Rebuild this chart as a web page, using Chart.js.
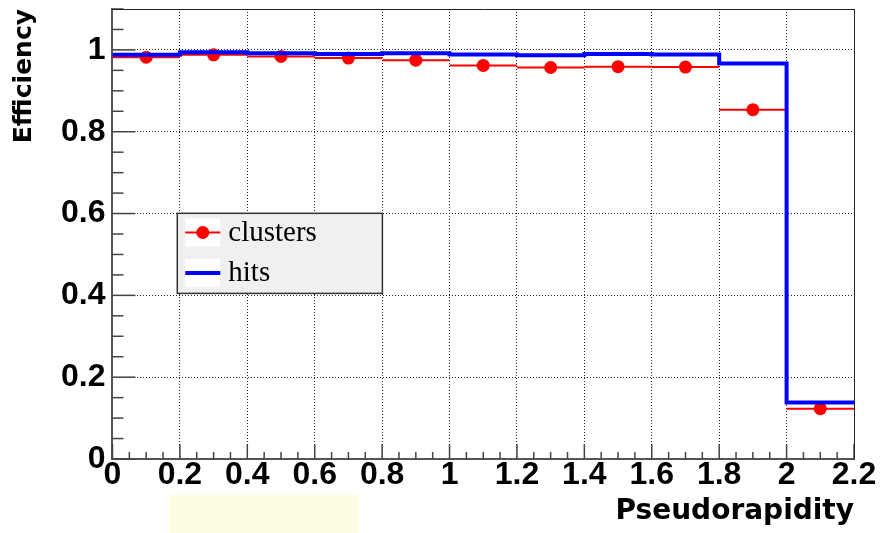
<!DOCTYPE html>
<html lang="en">
<head>
<meta charset="UTF-8">
<title>Efficiency vs Pseudorapidity</title>
<style>
  body { margin: 0; background: #fff; }
  .wrap { position: relative; width: 882px; height: 533px; }
  .note { position: absolute; left: 169px; top: 495px; width: 190px; height: 38px; background: #fdfde4; }
</style>
<script src="https://cdn.jsdelivr.net/npm/chart.js"></script>
</head>
<body>
<div class="wrap">
  <canvas id="effChart" width="882" height="533"></canvas>
  <div class="note"></div>
</div>
<script>
// histogram binning in pseudorapidity (11 bins of 0.2)
const binEdges = [0, 0.2, 0.4, 0.6, 0.8, 1.0, 1.2, 1.4, 1.6, 1.8, 2.0, 2.2];
const binCenters = [0.1, 0.3, 0.5, 0.7, 0.9, 1.1, 1.3, 1.5, 1.7, 1.9, 2.1];

// reconstruction efficiency per bin
const clusterEff = [0.982, 0.988, 0.984, 0.980, 0.975, 0.962, 0.957, 0.959, 0.958, 0.854, 0.123];
const hitEff     = [0.988, 0.994, 0.992, 0.990, 0.992, 0.989, 0.987, 0.990, 0.989, 0.967, 0.138];

const xRange = [0, 2.2];
const yRange = [0, 1.1];
const majorStep = 0.2;
const minorStep = 0.05;

// red horizontal bars: one segment per bin, broken with nulls
const clusterBars = [];
clusterEff.forEach((v, i) => {
    clusterBars.push({ x: binEdges[i], y: v });
    clusterBars.push({ x: binEdges[i + 1], y: v });
    clusterBars.push({ x: binEdges[i + 1], y: null });
});
const clusterPoints = clusterEff.map((v, i) => ({ x: binCenters[i], y: v }));

// blue step histogram: left edge of each bin, plus closing point at last edge
const hitSteps = hitEff.map((v, i) => ({ x: binEdges[i], y: v }));
hitSteps.push({ x: binEdges[binEdges.length - 1], y: hitEff[hitEff.length - 1] });

const fmt = v => String(Math.round(v * 10) / 10);

// inward major/minor ticks and the top/right frame
const frameTicks = {
    id: 'frameTicks',
    afterDatasetsDraw(chart) {
        const { ctx, chartArea: a, scales } = chart;
        ctx.save();
        ctx.strokeStyle = '#444';
        ctx.lineWidth = 1.5;
        const isMajor = v => Math.abs(v / majorStep - Math.round(v / majorStep)) < 1e-6;
        for (let k = 0; ; k++) {
            const v = scales.x.min + k * minorStep;
            if (v > scales.x.max + 1e-9) break;
            const px = scales.x.getPixelForValue(v);
            const len = isMajor(v) ? 15 : 7;
            ctx.beginPath();
            ctx.moveTo(px, a.bottom);
            ctx.lineTo(px, a.bottom - len);
            ctx.stroke();
        }
        for (let k = 0; ; k++) {
            const v = scales.y.min + k * minorStep;
            if (v > scales.y.max + 1e-9) break;
            const py = scales.y.getPixelForValue(v);
            const len = isMajor(v) ? 23 : 11;
            ctx.beginPath();
            ctx.moveTo(a.left, py);
            ctx.lineTo(a.left + len, py);
            ctx.stroke();
        }
        ctx.strokeStyle = '#222';
        ctx.lineWidth = 1;
        ctx.beginPath();
        ctx.moveTo(a.left, a.top + 0.5);
        ctx.lineTo(a.right + 0.5, a.top + 0.5);
        ctx.lineTo(a.right + 0.5, a.bottom);
        ctx.stroke();
        ctx.restore();
    }
};

// boxed legend inside the plot
const boxLegend = {
    id: 'boxLegend',
    afterDraw(chart) {
        const { ctx, chartArea: a } = chart;
        const w = a.right - a.left, h = a.bottom - a.top;
        const left = a.left + w * 0.0874, right = a.left + w * 0.364;
        const top = a.top + h * 0.454, bottom = a.top + h * 0.632;
        const bh = bottom - top;
        ctx.save();
        ctx.fillStyle = '#f0f0f0';
        ctx.fillRect(left, top, right - left, bh);
        ctx.strokeStyle = '#333';
        ctx.lineWidth = 1.5;
        ctx.strokeRect(left, top, right - left, bh);
        const entries = chart.data.datasets.filter(d => d.label);
        entries.forEach((d, i) => {
            const cy = top + bh * (0.24 + i * 0.505);
            ctx.fillStyle = '#fff';
            ctx.fillRect(left + 8, cy - 14, 35, 28);
            const color = d.legendColor || d.borderColor;
            ctx.strokeStyle = color;
            ctx.lineWidth = d.legendWidth || d.borderWidth;
            ctx.beginPath();
            ctx.moveTo(left + 8, cy);
            ctx.lineTo(left + 43, cy);
            ctx.stroke();
            if (d.type === 'scatter') {
                ctx.fillStyle = d.backgroundColor;
                ctx.beginPath();
                ctx.arc(left + 25.5, cy, d.pointRadius, 0, Math.PI * 2);
                ctx.fill();
            }
            ctx.fillStyle = '#000';
            ctx.font = '29px "Liberation Serif"';
            ctx.textBaseline = 'alphabetic';
            ctx.fillText(d.label, left + 51, cy + 8.5);
        });
        ctx.restore();
    }
};

const tickFont = { family: 'Liberation Sans', weight: 'bold', size: 32, lineHeight: 1 };

new Chart(document.getElementById('effChart'), {
    data: {
        datasets: [
            {
                type: 'scatter',
                label: 'clusters',
                data: clusterPoints,
                backgroundColor: '#ff0000',
                borderWidth: 0,
                pointRadius: 6.5,
                legendColor: '#ff0000',
                legendWidth: 2,
                order: 2
            },
            {
                type: 'line',
                data: clusterBars,
                borderColor: '#ff0000',
                borderWidth: 2,
                pointRadius: 0,
                spanGaps: false,
                fill: false,
                order: 1
            },
            {
                type: 'line',
                label: 'hits',
                data: hitSteps,
                stepped: true,
                borderColor: '#0000ff',
                borderWidth: 4,
                pointRadius: 0,
                fill: false,
                order: 0
            }
        ]
    },
    options: {
        responsive: false,
        animation: false,
        layout: { padding: { top: 9, right: 28, bottom: 0, left: 2 } },
        plugins: { legend: { display: false }, tooltip: { enabled: false } },
        scales: {
            x: {
                type: 'linear',
                min: xRange[0],
                max: xRange[1],
                ticks: { stepSize: majorStep, padding: 0, color: '#000', font: tickFont, callback: fmt, autoSkip: false, maxRotation: 0 },
                grid: { color: '#222', lineWidth: 1, drawTicks: false },
                border: { color: '#555', width: 2, dash: [1, 2] },
                title: {
                    display: true, text: 'Pseudorapidity', align: 'end', color: '#000',
                    font: { family: 'DejaVu Sans', weight: 'bold', size: 28, lineHeight: 1 },
                    padding: { top: 7, bottom: 7 }
                }
            },
            y: {
                min: yRange[0],
                max: yRange[1],
                ticks: { stepSize: majorStep, includeBounds: false, padding: 7, color: '#000', font: tickFont, callback: fmt },
                grid: { color: '#222', lineWidth: 1, drawTicks: false },
                border: { color: '#555', width: 2, dash: [1, 2] },
                title: {
                    display: true, text: 'Efficiency', align: 'end', color: '#000',
                    font: { family: 'DejaVu Sans', weight: 'bold', size: 25, lineHeight: 1 },
                    padding: { top: 10, bottom: 17 }
                },
                // the top tick label sits well below the frame, so no reserve is needed above it
                afterFit(scale) { scale.paddingTop = 0; }
            }
        }
    },
    plugins: [frameTicks, boxLegend]
});
</script>
</body>
</html>
